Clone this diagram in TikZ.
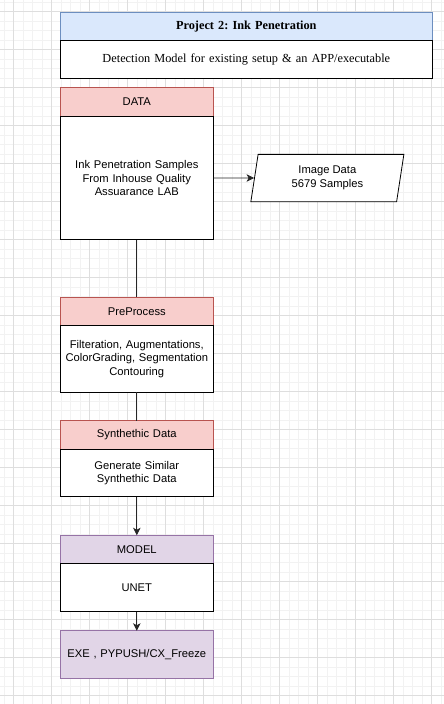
\documentclass[tikz,border=0pt]{standalone}
\usepackage{fontspec}
\setmainfont{Liberation Sans}
\newfontfamily\titlefont{Liberation Serif}
\usetikzlibrary{positioning,shapes.geometric,arrows.meta}
\definecolor{blueFill}{HTML}{DAE8FC}
\definecolor{blueEdge}{HTML}{6C8EBF}
\definecolor{redFill}{HTML}{F8CECC}
\definecolor{redEdge}{HTML}{B85450}
\definecolor{violetFill}{HTML}{E1D5E7}
\definecolor{violetEdge}{HTML}{9673A6}
\tikzset{
	box/.style={draw, line width=0.8pt, inner sep=0pt, outer sep=0pt, align=center, minimum width=153pt, text width=150pt,
		font=\fontsize{11.2}{13.7}\selectfont},
	redhead/.style={box, fill=redFill, draw=redEdge, minimum height=28.5pt},
	violethead/.style={box, fill=violetFill, draw=violetEdge},
	bodybox/.style={box, fill=white, draw=black},
	titlebox/.style={box, minimum width=372pt, text width=365pt, font=\titlefont\fontsize{12.3}{14}\selectfont\frenchspacing},
	link/.style={draw=black!85, line width=0.8pt},
	flow/.style={link, -{Stealth[length=7.5pt,width=7.5pt,inset=2pt]}}
}

\begin{document}
\begin{tikzpicture}[x=1pt,y=-1pt]
	\useasboundingbox (0,0) rectangle (444,704);
	\fill[white] (0,0) rectangle (444,704);
	\foreach \gx in {3.8,13.3,...,444} \draw[black!5, line width=0.6pt] (\gx,0) -- (\gx,704);
	\foreach \gy in {1.8,11.3,...,704} \draw[black!5, line width=0.6pt] (0,\gy) -- (444,\gy);
	\foreach \gx in {13.3,51.3,...,444} \draw[black!13, line width=0.6pt] (\gx,0) -- (\gx,704);
	\foreach \gy in {11.3,49.3,...,704} \draw[black!13, line width=0.6pt] (0,\gy) -- (444,\gy);

	\node[titlebox, fill=blueFill, draw=blueEdge, minimum height=28.5pt] (project) at (246.3,26.5) {\textbf{Project 2: Ink Penetration}};
	\node[titlebox, fill=white, draw=black, minimum height=37.5pt, below=0pt of project] (goal) {Detection Model for existing setup \& an APP/executable};

	\node[redhead, below=9.5pt of goal.south west, anchor=north west] (data) {DATA};
	\node[bodybox, minimum height=123.5pt, below=0pt of data] (dataBody) {Ink Penetration Samples\\ From Inhouse Quality\\ Assuarance LAB};
	\node[draw=black, fill=white, line width=0.8pt, trapezium, trapezium left angle=73, trapezium right angle=107, trapezium stretches body,
		minimum width=153pt, minimum height=47.3pt, inner sep=0pt, align=center, font=\fontsize{11.2}{13.7}\selectfont,
		right=40.8pt of dataBody] (imgData) {Image Data\\ 5679 Samples};

	\node[redhead, below=57.5pt of dataBody] (pre) {PreProcess};
	\node[bodybox, minimum height=66.5pt, below=0pt of pre] (preBody) {Filteration, Augmentations,\\ ColorGrading, Segmentation\\ Contouring};

	\node[redhead, below=28.5pt of preBody] (synth) {Synthethic Data};
	\node[bodybox, minimum height=47.5pt, below=0pt of synth] (synthBody) {Generate Similar\\ Synthethic Data};

	\node[violethead, minimum height=28.5pt, below=38.5pt of synthBody] (model) {MODEL};
	\node[bodybox, minimum height=48pt, below=0pt of model] (modelBody) {UNET};

	\node[violethead, minimum height=47.5pt, below=19pt of modelBody] (exe) {EXE , PYPUSH/CX\_Freeze};

	\draw[flow] (dataBody) -- (imgData);
	\draw[link] (dataBody) -- (pre);
	\draw[link] (preBody) -- (synth);
	\draw[flow] (synthBody) -- (model);
	\draw[flow] (modelBody) -- (exe);
\end{tikzpicture}
\end{document}
